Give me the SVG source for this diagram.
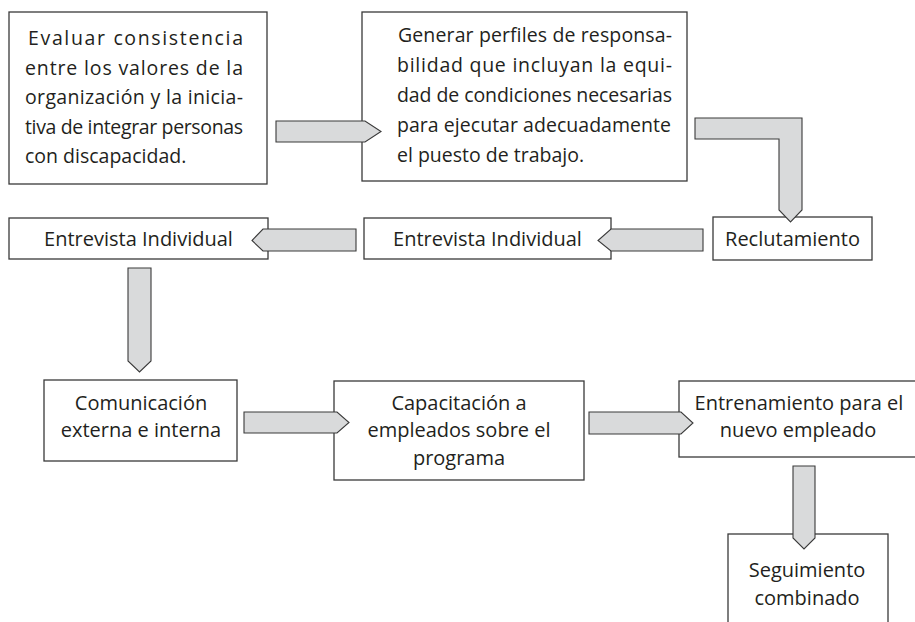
<svg xmlns="http://www.w3.org/2000/svg" width="915" height="622" viewBox="0 0 915 622">
<style>
.box{fill:#fff;stroke:#3a3a3a;stroke-width:1.3}
.arr{fill:#d9dadb;stroke:#3a3a3a;stroke-width:1.1;stroke-linejoin:miter}
text{font-family:"Open Sans","Noto Sans",sans-serif;font-size:20px;fill:#231f20}
.c{text-anchor:middle}
.j{font-size:19.5px}
</style>
<rect width="915" height="622" fill="#fff"/>
<g id="n1"><rect class="box" x="9" y="12" width="258" height="172"/>
<text class="j" x="28" y="45" textLength="215" lengthAdjust="spacing">Evaluar consistencia</text>
<text class="j" x="25" y="75" textLength="218" lengthAdjust="spacing">entre los valores de la</text>
<text class="j" x="25" y="104" textLength="218" lengthAdjust="spacing">organización y la inicia-</text>
<text class="j" x="25" y="134" textLength="218" lengthAdjust="spacing">tiva de integrar personas</text>
<text class="j" x="25" y="163">con discapacidad.</text></g>
<g id="n2"><rect class="box" x="362" y="12" width="325" height="169"/>
<text class="j" x="398" y="42" textLength="274" lengthAdjust="spacing">Generar perfiles de responsa-</text>
<text class="j" x="397" y="72" textLength="275" lengthAdjust="spacing">bilidad que incluyan la equi-</text>
<text class="j" x="397" y="102" textLength="275" lengthAdjust="spacing">dad de condiciones necesarias</text>
<text class="j" x="397" y="132" textLength="274" lengthAdjust="spacing">para ejecutar adecuadamente</text>
<text class="j" x="397" y="162">el puesto de trabajo.</text></g>
<g id="n3"><rect class="box" x="713" y="217" width="159" height="43"/>
<text class="c" x="792.5" y="245.5">Reclutamiento</text></g>
<g id="n4"><rect class="box" x="364" y="218" width="247" height="41"/>
<text class="c" x="487.5" y="245.5">Entrevista Individual</text></g>
<g id="n5"><rect class="box" x="9" y="218" width="259" height="41"/>
<text class="c" x="138.5" y="245.5">Entrevista Individual</text></g>
<g id="n6"><rect class="box" x="44" y="380" width="193" height="81"/>
<text class="c" x="141" y="410">Comunicación</text>
<text class="c" x="141" y="437">externa e interna</text></g>
<g id="n7"><rect class="box" x="334" y="381" width="250" height="99"/>
<text class="c" x="459" y="410">Capacitación a</text>
<text class="c" x="459" y="437">empleados sobre el</text>
<text class="c" x="459" y="465">programa</text></g>
<g id="n8"><rect class="box" x="679" y="381" width="245" height="76"/>
<text class="c" x="799" y="410">Entrenamiento para el</text>
<text class="c" x="798" y="437">nuevo empleado</text></g>
<g id="n9"><rect class="box" x="728" y="534" width="160" height="100"/>
<text class="c" x="807" y="577">Seguimiento</text>
<text class="c" x="807" y="605">combinado</text></g>
<g id="connectors">
<polygon class="arr" points="276,121 365,121 381,131.5 365,142 276,142"/>
<polygon class="arr" points="695,118 802,118 802,210 790.5,222 779,210 779,139 695,139"/>
<polygon class="arr" points="703,229 611,229 598,240.5 611,251 703,251"/>
<polygon class="arr" points="356,229 263,229 252,240.5 263,251 356,251"/>
<polygon class="arr" points="128,268 151,268 151,361 139.5,372 128,361"/>
<polygon class="arr" points="244,412 337,412 349,422.5 337,433 244,433"/>
<polygon class="arr" points="589,412 681,412 693,423 681,434 589,434"/>
<polygon class="arr" points="793,466 815,466 815,538 804,549 793,538"/>
</g>
</svg>
